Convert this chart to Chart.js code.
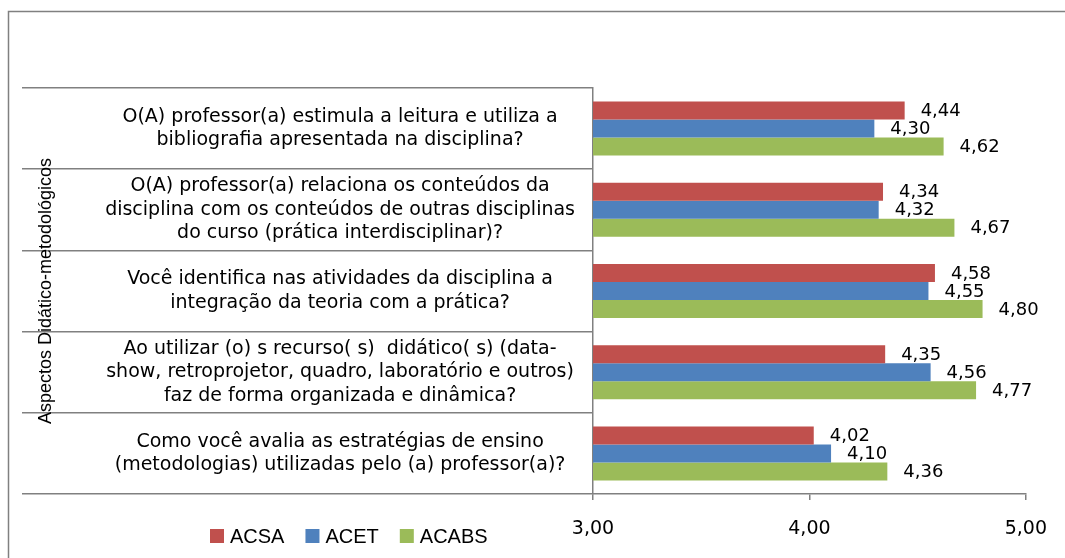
<!DOCTYPE html>
<html>
<head>
<meta charset="utf-8">
<script src="https://cdn.jsdelivr.net/npm/chart.js@4.4.0/dist/chart.umd.min.js"></script>
<style>
  html, body { margin: 0; padding: 0; background: #fff; }
</style>
</head>
<body>
<canvas id="chart" width="1065" height="558"></canvas>
<script>
const questions = [
  ["O(A) professor(a) estimula a leitura e utiliza a", "bibliografia apresentada na disciplina?"],
  ["O(A) professor(a) relaciona os conteúdos da", "disciplina com os conteúdos de outras disciplinas", "do curso (prática interdisciplinar)?"],
  ["Você identifica nas atividades da disciplina a", "integração da teoria com a prática?"],
  ["Ao utilizar (o) s recurso( s)  didático( s) (data-", "show, retroprojetor, quadro, laboratório e outros)", "faz de forma organizada e dinâmica?"],
  ["Como você avalia as estratégias de ensino", "(metodologias) utilizadas pelo (a) professor(a)?"]
];
const seriesNames = ["ACSA", "ACET", "ACABS"];
const acsa = [4.44, 4.34, 4.58, 4.35, 4.02];
const acet = [4.30, 4.32, 4.55, 4.56, 4.10];
const acabs = [4.62, 4.67, 4.80, 4.77, 4.36];
const xTicks = [3, 4, 5];
const axisTitle = "Aspectos Didático-metodológicos";

const colors = ["#C0504D", "#4F81BD", "#9BBB59"];
const gray = "#808080";
const fmt = (v) => Number(v).toFixed(2).replace(".", ",");

// frame round the whole chart (only top and left edges are visible)
const frame = {
  id: "frame",
  beforeDraw(chart) {
    const ctx = chart.ctx;
    ctx.save();
    ctx.strokeStyle = gray;
    ctx.lineWidth = 1.5;
    ctx.strokeRect(8.5, 11.5, 1200, 700);
    ctx.restore();
  }
};

// value labels at the end of each bar
const valueLabels = {
  id: "valueLabels",
  afterDatasetsDraw(chart) {
    const ctx = chart.ctx;
    ctx.save();
    ctx.font = '18px "DejaVu Sans"';
    ctx.fillStyle = "#000";
    ctx.textBaseline = "middle";
    chart.data.datasets.forEach((ds, i) => {
      chart.getDatasetMeta(i).data.forEach((bar, j) => {
        ctx.fillText(fmt(ds.data[j]), bar.x + 16, bar.y + 1);
      });
    });
    ctx.restore();
  }
};

// legend sits at the bottom left, level with the x tick labels
const bottomLegend = {
  id: "bottomLegend",
  afterDraw(chart) {
    const ctx = chart.ctx;
    ctx.save();
    ctx.font = '20px "Liberation Sans"';
    ctx.textBaseline = "middle";
    let x = 210;
    const y = 536;
    chart.data.datasets.forEach((ds) => {
      ctx.fillStyle = ds.backgroundColor;
      ctx.fillRect(x, y - 7, 14, 14);
      ctx.fillStyle = "#000";
      ctx.fillText(ds.label, x + 20, y + 1);
      x += 20 + ctx.measureText(ds.label).width + 21;
    });
    ctx.restore();
  }
};

new Chart(document.getElementById("chart"), {
  type: "bar",
  data: {
    labels: questions,
    datasets: [
      { label: seriesNames[0], data: acsa, backgroundColor: colors[0] },
      { label: seriesNames[1], data: acet, backgroundColor: colors[1] },
      { label: seriesNames[2], data: acabs, backgroundColor: colors[2] }
    ]
  },
  options: {
    indexAxis: "y",
    responsive: false,
    animation: false,
    layout: { padding: { left: 9, top: 88, right: 37, bottom: 14 } },
    datasets: { bar: { categoryPercentage: 0.665, barPercentage: 1 } },
    plugins: { legend: { display: false }, tooltip: { enabled: false } },
    scales: {
      x: {
        min: 3,
        max: 5,
        afterBuildTicks: (scale) => { scale.ticks = xTicks.map((v) => ({ value: v })); },
        afterFit: (scale) => { scale.height = 50; },
        ticks: {
          callback: (v) => fmt(v),
          color: "#000",
          font: { family: "DejaVu Sans", size: 19 },
          padding: 18,
          maxRotation: 0
        },
        grid: { drawOnChartArea: false, tickLength: 6, color: gray, lineWidth: 1.5 },
        border: { color: gray, width: 1.5 }
      },
      y: {
        afterFit: (scale) => { scale.width = 584; },
        grid: { offset: true, drawOnChartArea: false, tickLength: 571, color: gray, lineWidth: 1.5 },
        border: { color: gray, width: 1.5 },
        ticks: {
          crossAlign: "center",
          padding: -553,
          color: "#000",
          font: { family: "DejaVu Sans", size: 19, lineHeight: 1.24 }
        },
        title: {
          display: true,
          text: axisTitle,
          color: "#000",
          font: { family: "Liberation Sans", size: 18 },
          padding: { top: 26, bottom: 0 }
        }
      }
    }
  },
  plugins: [frame, valueLabels, bottomLegend]
});
</script>
</body>
</html>
